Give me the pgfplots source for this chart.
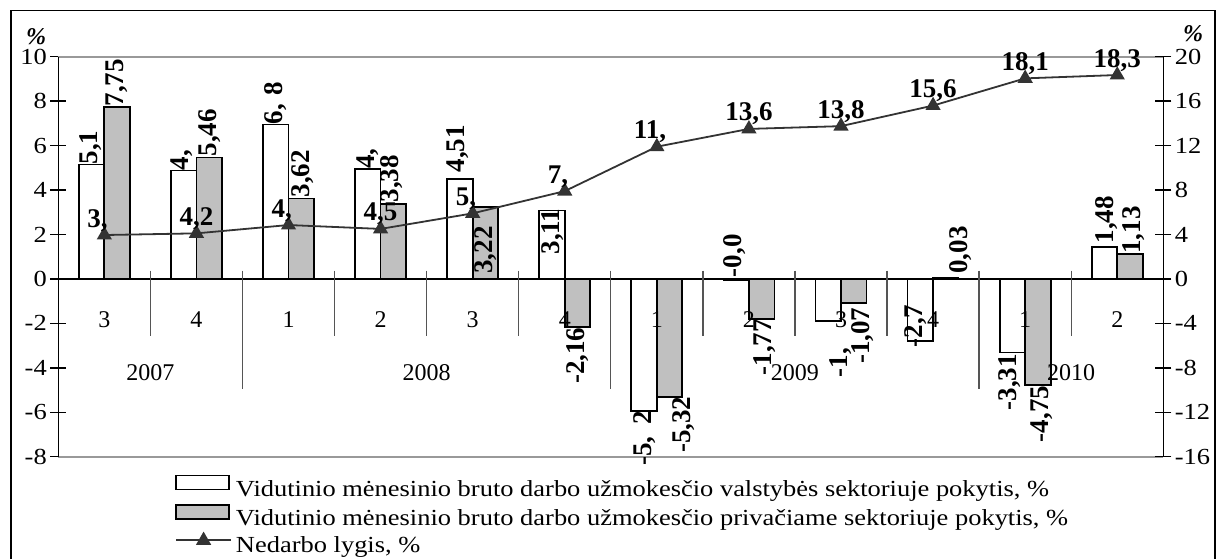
\documentclass[border=0pt]{standalone}
\usepackage{fontspec}
\setmainfont{Liberation Serif}
\newfontfamily\stretchserif[FakeStretch=1.15]{Liberation Serif}
\usepackage{pgfplots}
\usepackage{pgfplotstable}
\pgfplotsset{compat=1.18}
\definecolor{barg}{HTML}{C0C0C0}
\definecolor{lineg}{HTML}{333333}
\definecolor{sepg}{HTML}{555555}
\definecolor{bordg}{HTML}{999999}
\newcommand\tickfont{\stretchserif\fontsize{23}{23}\selectfont}
\newcommand\legfont{\stretchserif\fontsize{23}{27}\selectfont}
\newcommand\lblfont{\fontsize{27}{27}\selectfont\bfseries}
\newcommand\pctfont{\fontsize{24}{24}\selectfont\bfseries\itshape}
\newcommand\qfont{\fontsize{24}{24}\selectfont}
\pgfplotsset{
  barleg/.style={legend image code/.code={\draw[##1, line width=1.5pt] (0pt,1pt) rectangle (53pt,15pt);}},
  lineleg/.style={legend image code/.code={\draw[##1, mark repeat=2, mark phase=2] plot coordinates {(0pt,7pt) (27.5pt,7pt) (55pt,7pt)};}},
  myaxis/.style={
    at={(58.3pt,102.3pt)}, anchor=south west, scale only axis,
    width=1105pt, height=400pt,
    xmin=-0.5, xmax=11.5, xtick=\empty,
    separate axis lines,
    tick align=center, major tick length=16pt,
    ytick style={line width=1.5pt, black},
    yticklabel style={font=\tickfont},
    /pgf/number format/assume math mode=true,
    clip=false,
  },
}

\pgfplotstableread{
x pub priv
0 5.15 7.75
1 4.88 5.46
2 6.95 3.62
3 4.95 3.38
4 4.51 3.22
5 3.08 -2.16
6 -5.93 -5.30
7 -0.05 -1.79
8 -1.88 -1.07
9 -2.78 0.03
10 -3.31 -4.77
11 1.44 1.13
}\bars

% labels that start at the point (text reads upward from it)
\pgfplotstableread{
x y lab
-0.143 5.15 {5,1}
0.840 4.88 {4,}
1.857 6.95 {6,\hspace{0.3em}8}
2.857 4.95 {4,}
3.835 4.79 {4,51}
6.849 0.07 {-0,0}
8.815 -3.09 {-2,7}
10.886 1.59 {1,48}
0.134 7.76 {7,75}
1.147 5.5 {5,46}
2.157 3.66 {3,62}
3.121 3.44 {3,38}
4.145 0.23 {3,22}
9.303 0.23 {0,03}
11.182 1.13 {1,13}
}\westlab

% labels that end at the point (text hangs below it)
\pgfplotstableread{
x y lab
4.872 3.17 {3,11}
5.872 -5.93 {-5,\hspace{0.45em}2}
7.997 -1.88 {-1,\phantom{88}}
9.836 -3.38 {-3,31}
5.139 -2.18 {-2,16}
6.295 -5.29 {-5,32}
7.175 -1.8 {-1,77}
8.234 -1.28 {-1,07}
10.183 -4.8 {-4,75}
}\eastlab

\pgfplotstableread{
x y lab
0 3.95 {3,\phantom{9}}
1 4.1 {4,2}
2 4.85 {4,\phantom{9}}
3 4.5 {4,5}
4 5.9 {5,\phantom{9}}
5 7.9 {7,\phantom{9}}
6 11.9 {11,\phantom{9}}
7 13.5 {13,6}
8 13.75 {13,8}
9 15.6 {15,6}
10 18.05 {18,1}
11 18.35 {18,3}
}\unemp

\begin{document}
\begin{tikzpicture}
\draw[line width=1.5pt] (11pt,-5pt) -- (11pt,548.5pt) -- (1215pt,548.5pt) -- (1215pt,-5pt);
\node[font=\pctfont] at (36pt,522.3pt) {\%};
\node[font=\pctfont] at (1193pt,525.5pt) {\%};
\begin{axis}[myaxis,
  ymin=-8, ymax=10, ytick={-8,-6,...,10}, ytick pos=left,
  x axis line style={bordg, line width=2pt},
  y axis line style={black, line width=1.5pt},
  legend cell align=left,
  legend style={at={(0.1056,-0.045)}, anchor=north west, draw=none, fill=none,
    inner sep=0pt, font=\legfont, row sep=3pt,
    nodes={inner xsep=4pt, inner ysep=0pt, text height=16pt, text depth=5pt}},
]
\draw[black, line width=1.5pt] (axis cs:-0.5,0) -- (axis cs:11.5,0);
\draw[sepg, line width=1.3pt] (axis cs:0.5,0.374) -- (axis cs:0.5,-2.55);
\draw[sepg, line width=1.3pt] (axis cs:2.5,0.374) -- (axis cs:2.5,-2.55);
\draw[sepg, line width=1.3pt] (axis cs:3.5,0.374) -- (axis cs:3.5,-2.55);
\draw[sepg, line width=1.3pt] (axis cs:4.5,0.374) -- (axis cs:4.5,-2.55);
\draw[sepg, line width=1.3pt] (axis cs:6.5,0.374) -- (axis cs:6.5,-2.55);
\draw[sepg, line width=1.3pt] (axis cs:7.5,0.374) -- (axis cs:7.5,-2.55);
\draw[sepg, line width=1.3pt] (axis cs:8.5,0.374) -- (axis cs:8.5,-2.55);
\draw[sepg, line width=1.3pt] (axis cs:10.5,0.374) -- (axis cs:10.5,-2.55);
\draw[sepg, line width=1.3pt] (axis cs:1.5,0.374) -- (axis cs:1.5,-4.94);
\draw[sepg, line width=1.3pt] (axis cs:5.5,0.374) -- (axis cs:5.5,-4.94);
\draw[sepg, line width=1.3pt] (axis cs:9.5,0.374) -- (axis cs:9.5,-4.94);

\addplot[ybar, bar width=25.5pt, bar shift=-12.75pt, fill=white, draw=black, line width=1.8pt, barleg]
  table[x=x,y=pub]{\bars};
\addlegendentry{Vidutinio mėnesinio bruto darbo užmokesčio valstybės sektoriuje pokytis, \%}
\addplot[ybar, bar width=25.5pt, bar shift=12.75pt, fill=barg, draw=black, line width=1.8pt, barleg]
  table[x=x,y=priv]{\bars};
\addlegendentry{Vidutinio mėnesinio bruto darbo užmokesčio privačiame sektoriuje pokytis, \%}
\addlegendimage{lineg, line width=1.8pt, mark=triangle*, mark size=7pt, mark options={fill=lineg, draw=lineg}, lineleg}
\addlegendentry{Nedarbo lygis, \%}

\addplot[draw=none, mark=none, forget plot, nodes near coords, point meta=explicit symbolic,
  every node near coord/.append style={rotate=90, anchor=west, inner sep=0pt, font=\lblfont, text=black}]
  table[x=x,y=y,meta=lab]{\westlab};
\addplot[draw=none, mark=none, forget plot, nodes near coords, point meta=explicit symbolic,
  every node near coord/.append style={rotate=90, anchor=east, inner sep=0pt, font=\lblfont, text=black}]
  table[x=x,y=y,meta=lab]{\eastlab};

\node[font=\qfont] at (axis cs:0,-1.83) {3};
\node[font=\qfont] at (axis cs:1,-1.83) {4};
\node[font=\qfont] at (axis cs:2,-1.83) {1};
\node[font=\qfont] at (axis cs:3,-1.83) {2};
\node[font=\qfont] at (axis cs:4,-1.83) {3};
\node[font=\qfont] at (axis cs:5,-1.83) {4};
\node[font=\qfont] at (axis cs:6,-1.83) {1};
\node[font=\qfont] at (axis cs:7,-1.83) {2};
\node[font=\qfont] at (axis cs:8,-1.83) {3};
\node[font=\qfont] at (axis cs:9,-1.83) {4};
\node[font=\qfont] at (axis cs:10,-1.83) {1};
\node[font=\qfont] at (axis cs:11,-1.83) {2};
\node[font=\qfont] at (axis cs:0.5,-4.23) {2007};
\node[font=\qfont] at (axis cs:3.5,-4.23) {2008};
\node[font=\qfont] at (axis cs:7.5,-4.23) {2009};
\node[font=\qfont] at (axis cs:10.5,-4.23) {2010};
\end{axis}
\begin{axis}[myaxis,
  ymin=-16, ymax=20, ytick={-16,-12,...,20}, ytick pos=right,
  x axis line style={draw=none},
  y axis line style={black, line width=1.5pt},
]
\addplot[lineg, line width=1.8pt, mark=triangle*, mark size=7pt, mark options={fill=lineg, draw=lineg},
  nodes near coords, point meta=explicit symbolic,
  every node near coord/.append style={anchor=base, yshift=8pt, inner sep=0pt, font=\lblfont, text=black}]
  table[x=x,y=y,meta=lab]{\unemp};
\end{axis}
\pgfresetboundingbox
\useasboundingbox (0pt,0pt) rectangle (1218pt,559pt);
\end{tikzpicture}
\end{document}
